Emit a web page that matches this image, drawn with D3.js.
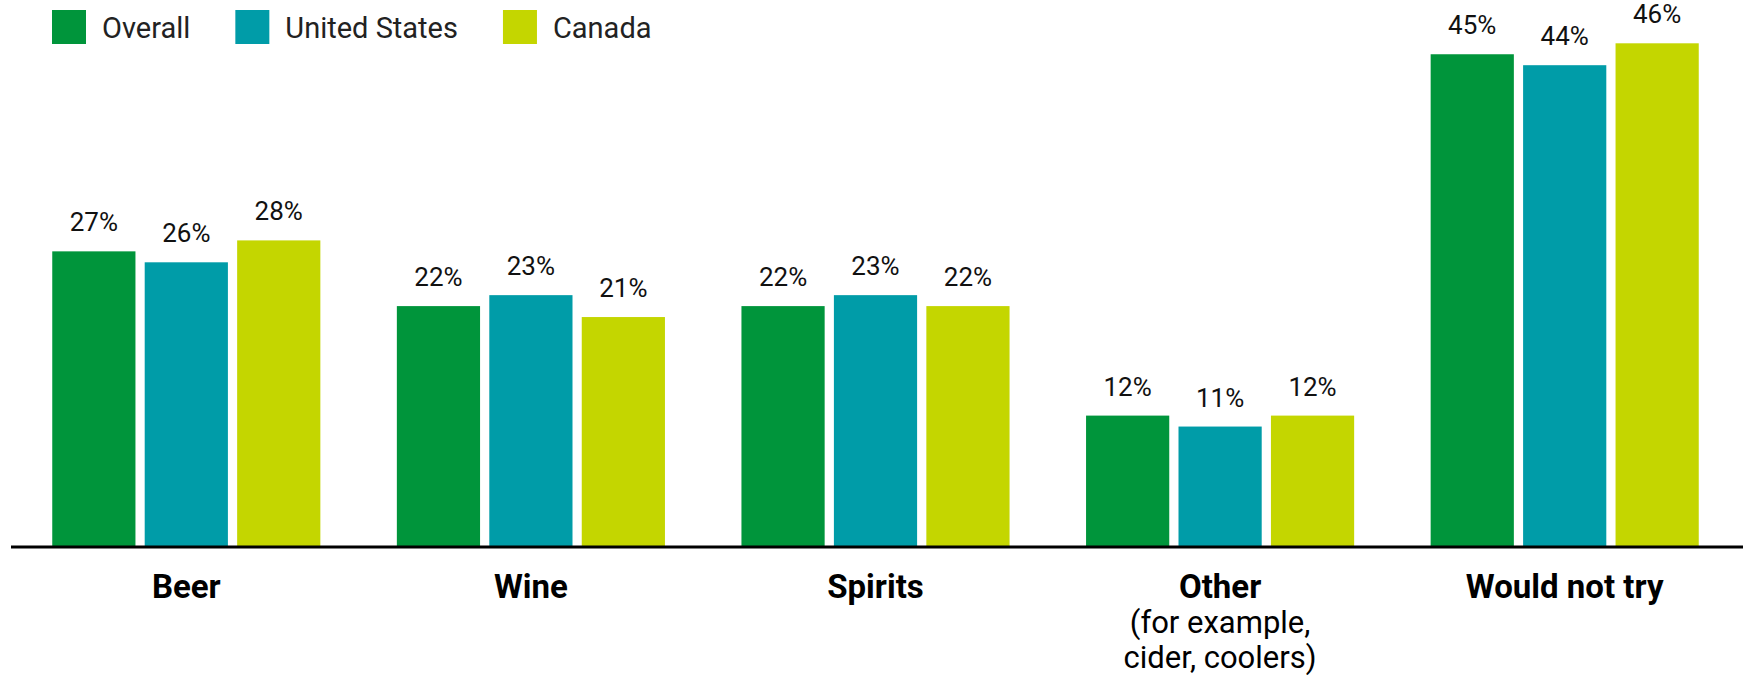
<!DOCTYPE html>
<html>
<head>
<meta charset="utf-8">
<script src="https://cdn.jsdelivr.net/npm/d3@7"></script>
<style>
  body { margin: 0; background: #fff; }
  svg { display: block; font-family: Roboto, "Noto Sans", sans-serif; }
</style>
</head>
<body>
<svg></svg>
<script>
let width = 1743;
let height = 682;

// data
var categories = ["Beer", "Wine", "Spirits", "Other", "Would not try"];
var subLabels = [[], [], [], ["(for example,", "cider, coolers)"], []];
var seriesNames = ["Overall", "United States", "Canada"];
var overall = [27, 22, 22, 12, 45];
var unitedStates = [26, 23, 23, 11, 44];
var canada = [28, 21, 22, 12, 46];
var colors = ["#00953b", "#009ca8", "#c4d600"];

var seriesValues = [overall, unitedStates, canada];

var svg = d3.select("svg").attr("width", width).attr("height", height);

var baseY = 547;

var x = d3.scaleBand()
  .domain(categories)
  .range([14, 1737])
  .paddingInner(0.222)
  .paddingOuter(0.111);

var xs = d3.scaleBand()
  .domain(seriesNames)
  .range([0, x.bandwidth()])
  .paddingInner(0.1);

var y = d3.scaleLinear()
  .domain([0, 50])
  .range([baseY, baseY - 547.5]);

var color = d3.scaleOrdinal().domain(seriesNames).range(colors);

// flatten to one row per bar
var rows = [];
categories.forEach(function(c, i) {
  seriesNames.forEach(function(s, j) {
    rows.push({ cat: c, series: s, value: seriesValues[j][i] });
  });
});

var groups = svg.append("g")
  .selectAll("g")
  .data(rows)
  .enter().append("g")
  .attr("transform", function(d) {
    return `translate(${x(d.cat) + xs(d.series)},0)`;
  });

groups.append("rect")
  .attr("x", 0)
  .attr("y", function(d) { return y(d.value); })
  .attr("width", xs.bandwidth())
  .attr("height", function(d) { return y(0) - y(d.value); })
  .attr("fill", function(d) { return color(d.series); });

groups.append("text")
  .attr("x", xs.bandwidth() / 2)
  .attr("y", function(d) { return y(d.value) - 20; })
  .attr("text-anchor", "middle")
  .attr("font-size", 26)
  .attr("fill", "#111")
  .text(function(d) { return d.value + "%"; });

// baseline
svg.append("line")
  .attr("x1", 11)
  .attr("x2", width)
  .attr("y1", baseY)
  .attr("y2", baseY)
  .attr("stroke", "#000")
  .attr("stroke-width", 3);

// category labels
var catLabels = svg.append("g")
  .selectAll("text")
  .data(categories)
  .enter().append("text")
  .attr("x", function(d) { return x(d) + x.bandwidth() / 2; })
  .attr("y", 598)
  .attr("text-anchor", "middle")
  .attr("fill", "#000");

catLabels.append("tspan")
  .attr("font-weight", "bold")
  .attr("font-size", 33)
  .text(function(d) { return d; });

catLabels.each(function(d, i) {
  var t = d3.select(this);
  subLabels[i].forEach(function(line) {
    t.append("tspan")
      .attr("x", x(d) + x.bandwidth() / 2)
      .attr("dy", 35)
      .attr("font-size", 31)
      .text(line);
  });
});

// legend
var legend = svg.append("g");
var lx = 52;
seriesNames.forEach(function(s) {
  legend.append("rect")
    .attr("x", lx)
    .attr("y", 10)
    .attr("width", 34)
    .attr("height", 34)
    .attr("fill", color(s));
  var t = legend.append("text")
    .attr("x", lx + 50)
    .attr("y", 38)
    .attr("font-size", 29)
    .attr("fill", "#222")
    .text(s);
  lx = lx + 50 + t.node().getComputedTextLength() + 45;
});
</script>
</body>
</html>
